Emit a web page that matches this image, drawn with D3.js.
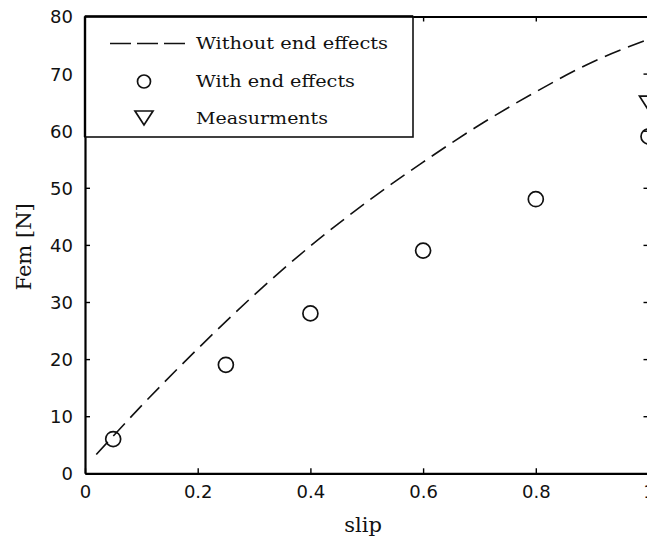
<!DOCTYPE html>
<html>
<head>
<meta charset="utf-8">
<script src="https://cdn.jsdelivr.net/npm/d3@7"></script>
<style>
  html, body { margin: 0; padding: 0; background: #fff; }
  svg { display: block; }
</style>
</head>
<body>
<svg id="chart" width="647" height="540"></svg>
<script>
// ---- data ----
const lineSlip = [0.02, 0.1, 0.2, 0.3, 0.4, 0.5, 0.6, 0.7, 0.8, 0.9, 1.0];
const lineFem  = [3.3, 11.8, 21.8, 31.2, 39.8, 47.5, 54.5, 61, 66.8, 72, 76];
const circSlip = [0.05, 0.25, 0.4, 0.6, 0.8, 1.0];
const circFem  = [6, 19, 28, 39, 48, 59];
const measSlip = [1.0];
const measFem  = [65];
const xTicks = [0, 0.2, 0.4, 0.6, 0.8, 1];
const yTicks = [0, 10, 20, 30, 40, 50, 60, 70, 80];
const legendLabels = ["Without end effects", "With end effects", "Measurments"];
const legendWidths = [192, 159, 132];

// ---- layout ----
const svg = d3.select("#chart");
const L = 85, R = 648.5, T = 16.5, B = 473.3;
const x = d3.scaleLinear().domain([0, 1]).range([L, R]);
const y = d3.scaleLinear().domain([0, 80]).range([B, T]);
const tickFont = "'DejaVu Sans', sans-serif";
const serif = "'DejaVu Serif', serif";

// clip
svg.append("clipPath").attr("id", "clip").append("rect")
  .attr("x", L).attr("y", T).attr("width", R - L).attr("height", B - T);

// axes
const fmtX = d => d === 0 ? "0" : d === 1 ? "1" : d3.format(".1f")(d);
const axB = svg.append("g").attr("transform", `translate(0,${B})`)
  .call(d3.axisBottom(x).tickValues(xTicks).tickSizeInner(-5).tickSizeOuter(0).tickPadding(12).tickFormat(fmtX));
const axT = svg.append("g").attr("transform", `translate(0,${T})`)
  .call(d3.axisTop(x).tickValues(xTicks).tickSizeInner(-5).tickSizeOuter(0).tickFormat(""));
const axL = svg.append("g").attr("transform", `translate(${L},0)`)
  .call(d3.axisLeft(y).tickValues(yTicks).tickSizeInner(-5).tickSizeOuter(0).tickPadding(12));
const axR = svg.append("g").attr("transform", `translate(${R},0)`)
  .call(d3.axisRight(y).tickValues(yTicks).tickSizeInner(-5).tickSizeOuter(0).tickFormat(""));

[axB, axT, axL, axR].forEach(g => {
  g.select(".domain").attr("stroke", "#000").attr("stroke-width", 2.2);
  g.selectAll(".tick line").attr("stroke", "#000").attr("stroke-width", 1.4);
  g.selectAll(".tick text").attr("fill", "#111").style("font-family", tickFont).style("font-size", "18px");
});
axB.selectAll(".tick text").attr("dy", "0.71em");
axL.selectAll(".tick text").attr("dy", "0.36em");

// axis labels
svg.append("text").attr("x", 363).attr("y", 532)
  .attr("text-anchor", "middle").style("font-family", serif).style("font-size", "21px")
  .attr("fill", "#111").text("slip");
svg.append("text").attr("transform", `translate(31,${(T + B) / 2 + 2}) rotate(-90)`)
  .attr("text-anchor", "middle").style("font-family", serif).style("font-size", "21px")
  .attr("fill", "#111").text("Fem [N]");

// plot content
const plot = svg.append("g").attr("clip-path", "url(#clip)");
const lineData = lineSlip.map((s, i) => [s, lineFem[i]]);
plot.append("path").datum(lineData)
  .attr("d", d3.line().x(d => x(d[0])).y(d => y(d[1])).curve(d3.curveMonotoneX))
  .attr("fill", "none").attr("stroke", "#111").attr("stroke-width", 1.6)
  .attr("stroke-dasharray", "17,8");

plot.selectAll("circle.pt").data(circSlip.map((s, i) => [s, circFem[i]])).enter()
  .append("circle").attr("class", "pt")
  .attr("cx", d => x(d[0])).attr("cy", d => y(d[1])).attr("r", 7.5)
  .attr("fill", "none").attr("stroke", "#111").attr("stroke-width", 1.7);

const tri = (cx, cy) => `M${cx - 9},${cy - 6} L${cx + 9},${cy - 6} L${cx},${cy + 8} Z`;
plot.selectAll("path.meas").data(measSlip.map((s, i) => [s, measFem[i]])).enter()
  .append("path").attr("class", "meas")
  .attr("d", d => tri(x(d[0]), y(d[1])))
  .attr("fill", "none").attr("stroke", "#111").attr("stroke-width", 1.7);

// legend
const lg = svg.append("g");
lg.append("rect").attr("x", L).attr("y", T).attr("width", 413 - L).attr("height", 137 - T)
  .attr("fill", "#fff").attr("stroke", "#111").attr("stroke-width", 1.6);
svg.append("line").attr("x1", L).attr("x2", 413).attr("y1", T).attr("y2", T).attr("stroke", "#000").attr("stroke-width", 2.4);
svg.append("line").attr("x1", L).attr("x2", L).attr("y1", T).attr("y2", 137).attr("stroke", "#000").attr("stroke-width", 2.4);
const rowY = [43.5, 81.5, 118];
lg.append("line").attr("x1", 110).attr("x2", 187).attr("y1", rowY[0]).attr("y2", rowY[0])
  .attr("stroke", "#111").attr("stroke-width", 1.6).attr("stroke-dasharray", "21,6");
lg.append("circle").attr("cx", 144).attr("cy", rowY[1]).attr("r", 6.5)
  .attr("fill", "none").attr("stroke", "#111").attr("stroke-width", 1.7);
lg.append("path").attr("d", tri(144, rowY[2] - 1))
  .attr("fill", "none").attr("stroke", "#111").attr("stroke-width", 1.7);
lg.selectAll("text.lab").data(legendLabels).enter().append("text").attr("class", "lab")
  .attr("x", 196).attr("y", (d, i) => rowY[i]).attr("dy", "0.36em")
  .attr("textLength", (d, i) => legendWidths[i]).attr("lengthAdjust", "spacingAndGlyphs")
  .style("font-family", serif).style("font-size", "16px").attr("fill", "#111")
  .text(d => d);
</script>
</body>
</html>
